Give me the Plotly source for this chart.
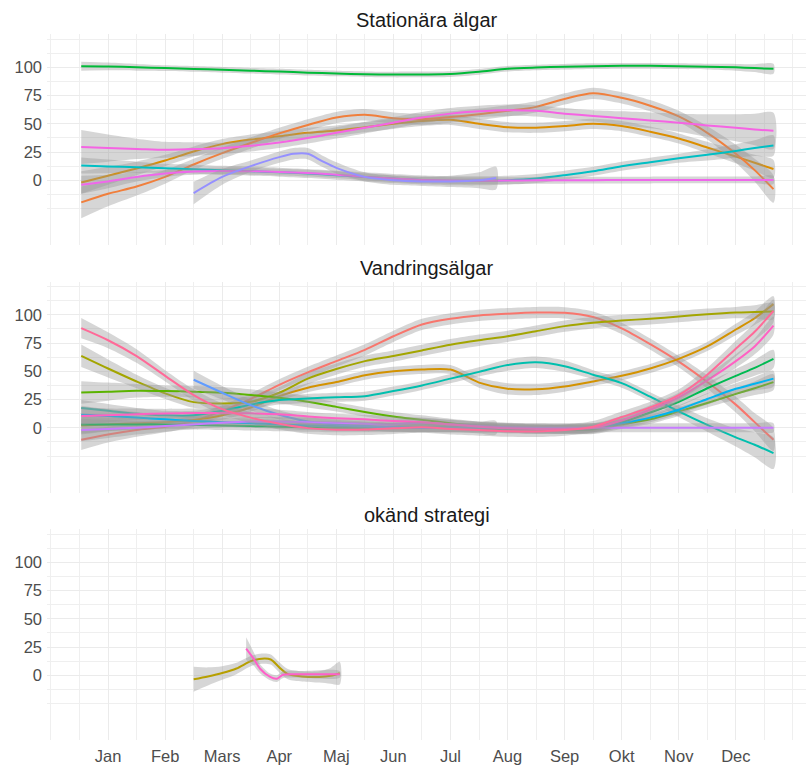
import plotly.graph_objects as go
from plotly.subplots import make_subplots

# ── Axis labels ────────────────────────────────────────────────
MONTHS = ["Jan", "Feb", "Mars", "Apr", "Maj", "Jun", "Jul", "Aug", "Sep", "Okt", "Nov", "Dec"]
MONTH_POS = [1, 2, 3, 4, 5, 6, 7, 8, 9, 10, 11, 12]
FACETS = ["Stationära älgar", "Vandringsälgar", "okänd strategi"]

# common x positions (month number) for full-year smooths
X_FULL = [0.53, 1, 1.5, 2, 2.5, 3, 3.5, 4, 4.5, 5, 5.5, 6, 6.5, 7, 7.5, 8, 8.5, 9, 9.5,
          10, 10.5, 11, 11.5, 12, 12.33, 12.66]

# ── Stationära älgar ───────────────────────────────────────────
st_green = [101, 100.8, 100, 99.3, 98.6, 97.8, 97, 96.2, 95.3, 94.5, 93.9, 93.6, 93.7, 94, 96,
            98.7, 99.8, 100.5, 101, 101.3, 101.3, 101, 100.6, 100, 99.3, 98.7]
st_green_se = [4, 3.5, 3, 2.5, 2.5, 2.5, 2.5, 2.5, 2.5, 2.5, 2.5, 2.5, 2.5, 2.5, 2.5, 2.5, 2.5,
               2.5, 2.5, 2.5, 2.5, 2.5, 2.5, 3, 3.5, 4.5]
st_orange = [-19.6, -12, -5.5, 3, 14, 24, 33, 41.5, 49, 55.5, 58, 55, 54, 56, 58.5, 61.5, 65, 72,
             77, 73, 66, 56.5, 42, 23.5, 9, -7.8]
st_orange_se = [14, 11, 8, 6, 5, 5, 5, 5, 5, 5, 5, 5, 5, 5, 5, 5, 5, 5, 5, 5, 5, 5, 6, 8, 10, 12]
st_gold = [-2, 4, 10.5, 17.5, 25.5, 32, 36, 39, 42, 44, 47, 50, 52.5, 53.5, 50, 47, 46.5, 48, 50,
           48, 43, 37, 29, 21, 15.5, 10]
st_gold_se = [10, 8, 6, 5, 4.5, 4.5, 4.5, 4.5, 4.5, 4.5, 4.5, 4.5, 4.5, 4.5, 4.5, 4.5, 4.5, 4.5,
              4.5, 4.5, 4.5, 4.5, 5, 6, 7, 8]
st_magenta = [29.4, 28.5, 27.8, 27, 27.6, 28.3, 30.5, 33.5, 37.5, 42, 46.5, 51, 55.5, 59, 61, 62,
              61.5, 59, 57, 55, 53, 51, 48.5, 46.5, 45, 43.8]
st_magenta_se = [15, 12, 9, 7, 6, 5, 5, 5, 5, 5, 5, 5, 5, 5, 5, 5, 5, 5, 5, 6, 7, 8, 10, 12, 14, 16]
st_cyan = [13.1, 12.3, 11.5, 10.6, 9.8, 8.8, 8, 7.2, 6, 4.5, 3, 1.5, 0.2, -0.4, -0.5, 0, 1.5, 4.5,
           8, 12.5, 16, 19.5, 22.5, 26, 28.5, 30.8]
st_cyan_se = [7, 6, 5, 4, 4, 4, 4, 4, 4, 4, 4, 4, 4, 4, 4, 4, 4, 4, 4, 4, 4, 4, 5, 6, 7, 9]
st_pink = [-4, -1, 3, 6, 7.8, 8.3, 8, 7.3, 6.4, 5, 3, 1.5, 0.3, -0.3, -0.5, -0.3, 0, 0, 0.1, 0.2,
           0.2, 0.3, 0.3, 0.3, 0.3, 0.3]
st_pink_se = [8, 6, 4, 3, 3, 3, 3, 3, 3, 3, 3, 3, 3, 3, 3, 3, 3, 3, 3, 3, 3, 3, 3, 3, 3, 3.5]
st_purple_x = [2.5, 3, 3.5, 4, 4.25, 4.5, 4.75, 5, 5.5, 6, 6.5, 7, 7.5, 7.8]
st_purple = [-11.3, 3, 12.5, 20.5, 23.5, 23.5, 17, 11, 3, 0, -1, -1, 0, 2]
st_purple_se = [10, 7, 5, 5, 5, 5, 5, 5, 4, 4, 4, 5, 7, 10]

# ── Vandringsälgar ─────────────────────────────────────────────
va_salmon = [-10.6, -6, -2, 1, 6, 15, 25.5, 38, 49, 59, 69, 81, 91.5, 96.5, 99.5, 101, 102, 101.8,
             98, 88, 74, 58.5, 40.5, 20.5, 5, -10.6]
va_salmon_se = [9, 7, 6, 5, 5, 5, 5, 5, 5, 5, 5, 5, 5, 5, 5, 5, 5, 5, 5, 5, 5, 5, 6, 7, 8, 10]
va_rose = [88.2, 77.5, 63.5, 46, 29, 16.5, 9, 3.5, -0.3, -1.7, -1.5, -0.5, 0.5, -1, -2, -3, -3.2,
           -2, 1, 9.5, 18, 29, 47, 70, 85, 103.5]
va_rose_se = [9, 7, 6, 5, 5, 5, 5, 5, 5, 5, 5, 5, 5, 5, 5, 5, 5, 5, 5, 5, 5, 5, 6, 7, 8, 10]
va_olive = [63.7, 52.5, 41, 30.5, 22.7, 21.5, 23, 31, 43.5, 52, 59, 63.5, 68.5, 73.5, 77.5, 81,
            85.5, 90, 93, 95, 96.5, 98.5, 100.5, 102, 102.5, 103]
va_olive_se = [10, 8, 6, 5, 5, 5, 5, 5, 5, 5, 5, 5, 5, 5, 5, 5, 5, 5, 5, 5, 5, 5, 5, 5, 6, 7]
va_gold = [2, 3, 4, 5, 7, 11, 18, 28, 35.5, 40.5, 46.5, 50, 51.5, 51.5, 40, 34.5, 34, 36.5, 41,
           46, 52.5, 61, 72, 87, 97, 109.5]
va_gold_se = [8, 6, 5, 4, 4, 4, 4, 4, 4, 4, 4, 4, 4, 4, 4.5, 5, 5, 4.5, 4, 4, 4, 4, 4, 5, 6, 7]
va_teal = [17.5, 15, 12.5, 11, 11, 15, 20.5, 24.5, 26, 27, 28, 32.5, 37.5, 43.5, 49.5, 55.5, 58,
           54.5, 47, 39.5, 27.5, 14.5, 2.5, -8.5, -15, -22.4]
va_teal_se = [7, 6, 5, 4, 4, 4, 4, 4, 4, 4, 4, 4, 4, 4, 4, 5, 5, 5, 4, 4, 4, 5, 6, 8, 11, 14]
va_ygreen = [31.3, 32, 32.7, 32.5, 32, 31, 29, 26.5, 23, 18.5, 14, 10, 7, 4, 1.5, 0, -1, -1.5,
             -1.5, 3, 7.5, 14.5, 22, 30, 35, 40.4]
va_ygreen_se = [10, 8, 6, 5, 5, 5, 5, 5, 5, 4, 4, 4, 4, 4, 4, 4, 4, 4, 4, 4, 4, 4, 4, 5, 6, 7]
va_green = [3, 3, 3, 3, 2.5, 2, 1.5, 1, 0.5, 0, 0, 0, 0, 0, -0.5, -1, -1.5, -1.5, -1, 5, 13.5, 23,
            35, 46, 53, 61]
va_green_se = [8, 6, 5, 4, 4, 4, 4, 4, 4, 4, 4, 4, 4, 4, 4, 4, 4, 4, 4, 4, 4, 4, 5, 6, 7, 8]
va_sky = [11.5, 10.5, 9, 7.5, 6, 5, 4, 3, 2, 1.5, 1, 0.5, 0.2, 0, 0, 0, -0.3, -0.5, 0, 4, 9, 16,
          25.5, 34.5, 39, 43.5]
va_sky_se = [8, 6, 5, 4, 4, 4, 4, 4, 4, 4, 4, 4, 4, 4, 4, 4, 4, 4, 4, 4, 4, 4, 5, 5, 6, 7]
va_pink = [10.5, 11, 12, 12.7, 13, 13, 12.8, 12, 10, 8.5, 7.5, 6, 5, 3, 1, -0.5, -1, -1, 0, 6.5,
           16, 27, 42, 59, 72, 90.5]
va_pink_se = [8, 6, 5, 4, 4, 4, 4, 4, 4, 4, 4, 4, 4, 4, 4, 4, 4, 4, 4, 4, 4, 4, 5, 6, 7, 8]
va_purple = [-2, -1, 0, 1.5, 3, 4.5, 5.5, 5.6, 5, 4.5, 3.5, 3, 4.5, 3, 1.5, 0.5, 0, 0, 0, 0, 0, 0,
             0, 0, 0, 0]
va_purple_se = [10, 8, 6, 5, 4, 4, 4, 4, 4, 4, 4, 4, 4, 4, 4, 4, 4, 4, 4, 4, 4, 4, 4, 4, 4, 4]
va_blue_x = [2.5, 3, 3.5, 4, 4.5, 5, 5.5, 6, 6.5, 7, 7.5, 7.8]
va_blue = [42.5, 31, 20, 11.5, 5.5, 3, 1.5, 0.5, 0, 0, 0, 0]
va_blue_se = [8, 6, 5, 4, 4, 4, 4, 4, 4, 4, 5, 6]

# ── okänd strategi ─────────────────────────────────────────────
ok_olive_x = [2.5, 2.75, 3, 3.25, 3.5, 3.65, 3.85, 4, 4.15, 4.4, 4.7, 4.9, 5.06]
ok_olive = [-3.5, -1, 2, 6, 12.5, 14.5, 14, 7, 1, -1, -1.5, -0.5, 1.8]
ok_olive_se = [11, 8, 6, 5, 4.5, 4.5, 4.5, 4.5, 4.5, 4.5, 5, 7, 10]
ok_pink_x = [3.42, 3.55, 3.66, 3.84, 3.96, 4.07, 4.4, 5.06]
ok_pink = [23.6, 14.7, 6, -1.5, -3, 0.5, 0.8, 0.8]
ok_pink_se = [10, 6, 4, 3, 3, 3, 3, 3]

# (row, x, y, se, colour)
series = [
    (1, X_FULL, st_green, st_green_se, "#00BA38"),
    (1, X_FULL, st_gold, st_gold_se, "#DB8E00"),
    (1, X_FULL, st_orange, st_orange_se, "#F07F3C"),
    (1, X_FULL, st_magenta, st_magenta_se, "#F564E3"),
    (1, X_FULL, st_cyan, st_cyan_se, "#00BFC4"),
    (1, X_FULL, st_pink, st_pink_se, "#EF67EB"),
    (1, st_purple_x, st_purple, st_purple_se, "#9590FF"),
    (2, X_FULL, va_salmon, va_salmon_se, "#F8766D"),
    (2, X_FULL, va_gold, va_gold_se, "#D39200"),
    (2, X_FULL, va_olive, va_olive_se, "#A3A500"),
    (2, X_FULL, va_ygreen, va_ygreen_se, "#5BB300"),
    (2, X_FULL, va_green, va_green_se, "#00BA52"),
    (2, X_FULL, va_teal, va_teal_se, "#00BFAE"),
    (2, X_FULL, va_sky, va_sky_se, "#00B4EF"),
    (2, va_blue_x, va_blue, va_blue_se, "#619CFF"),
    (2, X_FULL, va_purple, va_purple_se, "#C77CFF"),
    (2, X_FULL, va_pink, va_pink_se, "#FF61C3"),
    (2, X_FULL, va_rose, va_rose_se, "#FF6A98"),
    (3, ok_olive_x, ok_olive, ok_olive_se, "#B79F00"),
    (3, ok_pink_x, ok_pink, ok_pink_se, "#FF5FC9"),
]

fig = make_subplots(rows=3, cols=1)

for row, xs, ys, se, col in series:
    upper = [y + s for y, s in zip(ys, se)]
    lower = [y - s for y, s in zip(ys, se)]
    fig.add_trace(go.Scatter(
        x=list(xs) + list(xs)[::-1], y=upper + lower[::-1],
        fill="toself", fillcolor="rgba(153,153,153,0.4)",
        line=dict(width=0, shape="spline", smoothing=0.8),
        mode="lines", hoverinfo="skip", showlegend=False
    ), row=row, col=1)
    fig.add_trace(go.Scatter(
        x=xs, y=ys, mode="lines",
        line=dict(color=col, width=2, shape="spline", smoothing=0.8),
        showlegend=False
    ), row=row, col=1)

# ── Layout (ggplot theme_minimal look) ─────────────────────────
H = 766
panel_tops = [34, 281.5, 529]
panel_h = 211
grid = "#EBEBEB"
minor_x = [0, 0.5, 1.5, 2.5, 3.5, 4.5, 5.5, 6.5, 7.5, 8.5, 9.5, 10.5, 11.5, 12.5, 13]
minor_y = [-25, -12.5, 12.5, 37.5, 62.5, 87.5, 112.5, 125]

for i, top in enumerate(panel_tops, start=1):
    dom = [1 - (top + panel_h) / H, 1 - top / H]
    fig.update_yaxes(
        domain=dom, range=[-57.3, 129.5],
        tickvals=[0, 25, 50, 75, 100], ticks="", showline=False, zeroline=False,
        gridcolor=grid, gridwidth=1.1,
        minor=dict(tickvals=minor_y, showgrid=True, gridcolor="#EFEFEF", gridwidth=0.8),
        tickfont=dict(family="Liberation Sans", size=16.5, color="#4D4D4D"),
        ticklabelstandoff=4, automargin=False,
        row=i, col=1)
    fig.update_xaxes(
        domain=[0, 1], range=[-0.07, 13.23],
        tickvals=MONTH_POS, ticktext=MONTHS if i == 3 else [""] * 12,
        showticklabels=(i == 3), ticks="", showline=False, zeroline=False,
        gridcolor=grid, gridwidth=1.1,
        minor=dict(tickvals=minor_x, showgrid=True, gridcolor="#EFEFEF", gridwidth=0.8),
        tickfont=dict(family="Liberation Sans", size=16.5, color="#4D4D4D"),
        ticklabelstandoff=4, automargin=False,
        row=i, col=1)
    fig.add_annotation(
        text=FACETS[i - 1], xref="paper", yref="paper",
        x=0.5, y=1 - (top - 14) / H, yanchor="middle", showarrow=False,
        font=dict(family="Liberation Sans", size=20, color="#1A1A1A"))

fig.update_layout(
    width=806, height=766,
    margin=dict(l=47, r=0, t=0, b=0),
    plot_bgcolor="white", paper_bgcolor="white",
    showlegend=False
)

# page body margin would shift the figure by 8px
fig.write_html("out.html", config={"displayModeBar": False},
               post_script="document.body.style.margin='0';")
